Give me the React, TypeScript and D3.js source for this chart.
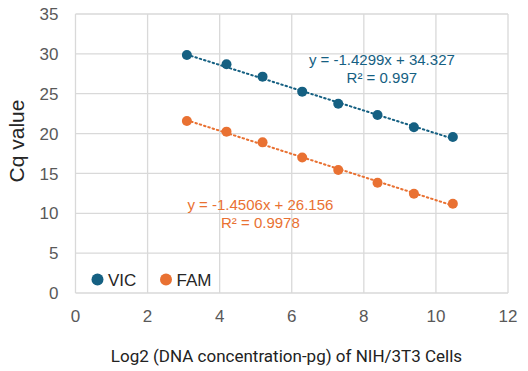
import React from "react";
import * as d3 from "d3";

// log2 of DNA amount (pg)
const xValues = [3.09, 4.19, 5.19, 6.29, 7.29, 8.38, 9.39, 10.47];
const vicCq = [29.86, 28.7, 27.14, 25.26, 23.75, 22.33, 20.79, 19.57];
const famCq = [21.58, 20.24, 18.9, 17.0, 15.43, 13.84, 12.46, 11.2];

const seriesNames = ["VIC", "FAM"];
const seriesColors = ["#156082", "#E97132"];
const slopes = [-1.4299, -1.4506];
const intercepts = [34.327, 26.156];
const equations = ["y = -1.4299x + 34.327", "y = -1.4506x + 26.156"];
const rSquared = ["R² = 0.997", "R² = 0.9978"];

const xTicks = [0, 2, 4, 6, 8, 10, 12];
const yTicks = [0, 5, 10, 15, 20, 25, 30, 35];

const width = 528;
const height = 371;
const margin = { top: 14, right: 20, bottom: 78, left: 75.5 };

export default function App() {
    const innerW = width - margin.left - margin.right;
    const innerH = height - margin.top - margin.bottom;

    const x = d3.scaleLinear().domain([0, 12]).range([0, innerW]);
    const y = d3.scaleLinear().domain([0, 35]).range([innerH, 0]);

    const series = [vicCq, famCq];
    const xMin = d3.min(xValues) as number;
    const xMax = d3.max(xValues) as number;

    const line = d3.line<[number, number]>()
        .x(d => x(d[0]))
        .y(d => y(d[1]));

    // where the equation labels sit (data coords)
    const labelPos = [
        { x: 8.5, y: 28.6 },
        { x: 5.13, y: 10.4 },
    ];

    return (
        <svg width={width} height={height}
            style={{ position: "absolute", left: 0, top: 0, background: "#fff" }}
            fontFamily="Liberation Sans, Arial, sans-serif">
            <g transform={`translate(${margin.left}, ${margin.top})`}>
                {/* grid */}
                {yTicks.map(t => (
                    <line key={"gy" + t} x1={0} x2={innerW} y1={y(t)} y2={y(t)}
                        stroke="#d9d9d9" strokeWidth={1.3} />
                ))}
                {xTicks.map(t => (
                    <line key={"gx" + t} x1={x(t)} x2={x(t)} y1={0} y2={innerH}
                        stroke="#d9d9d9" strokeWidth={1.3} />
                ))}

                {/* tick labels */}
                {yTicks.map(t => (
                    <text key={"ty" + t} x={-17} y={y(t)} dy="0.36em" textAnchor="end"
                        fontSize={17} fill="#595959">{t}</text>
                ))}
                {xTicks.map(t => (
                    <text key={"tx" + t} x={x(t)} y={innerH + 29} textAnchor="middle"
                        fontSize={17} fill="#595959">{t}</text>
                ))}

                {/* trendlines */}
                {series.map((s, i) => (
                    <path key={"tr" + i}
                        d={line([[xMin, slopes[i] * xMin + intercepts[i]], [xMax, slopes[i] * xMax + intercepts[i]]]) as string}
                        fill="none" stroke={seriesColors[i]} strokeWidth={2}
                        strokeDasharray="1.5 3" strokeLinecap="round" />
                ))}

                {/* points */}
                {series.map((s, i) => s.map((v, j) => (
                    <circle key={`p${i}-${j}`} cx={x(xValues[j])} cy={y(v)} r={5}
                        fill={seriesColors[i]} />
                )))}

                {/* equations */}
                {labelPos.map((p, i) => (
                    <text key={"eq" + i} x={x(p.x)} y={y(p.y)} textAnchor="middle"
                        fontSize={15} fill={seriesColors[i]}>
                        <tspan x={x(p.x)}>{equations[i]}</tspan>
                        <tspan x={x(p.x)} dy={17.6}>{rSquared[i]}</tspan>
                    </text>
                ))}

                {/* legend */}
                {seriesNames.map((n, i) => (
                    <g key={"lg" + i} transform={`translate(${22 + i * 68.5}, ${innerH - 13.5})`}>
                        <circle cx={0} cy={0} r={6} fill={seriesColors[i]} />
                        <text x={10.5} y={0} dy="0.36em" fontSize={17} fill="#262626">{n}</text>
                    </g>
                ))}
            </g>

            {/* axis titles */}
            <text transform={`translate(24, ${margin.top + 127}) rotate(-90)`} textAnchor="middle"
                fontSize={21} fill="#262626">Cq value</text>
            <text x={286.5} y={361.5} textAnchor="middle" fontSize={17}
                fontFamily="Roboto, sans-serif" fill="#222">Log2 (DNA concentration-pg) of NIH/3T3 Cells</text>
        </svg>
    );
}
